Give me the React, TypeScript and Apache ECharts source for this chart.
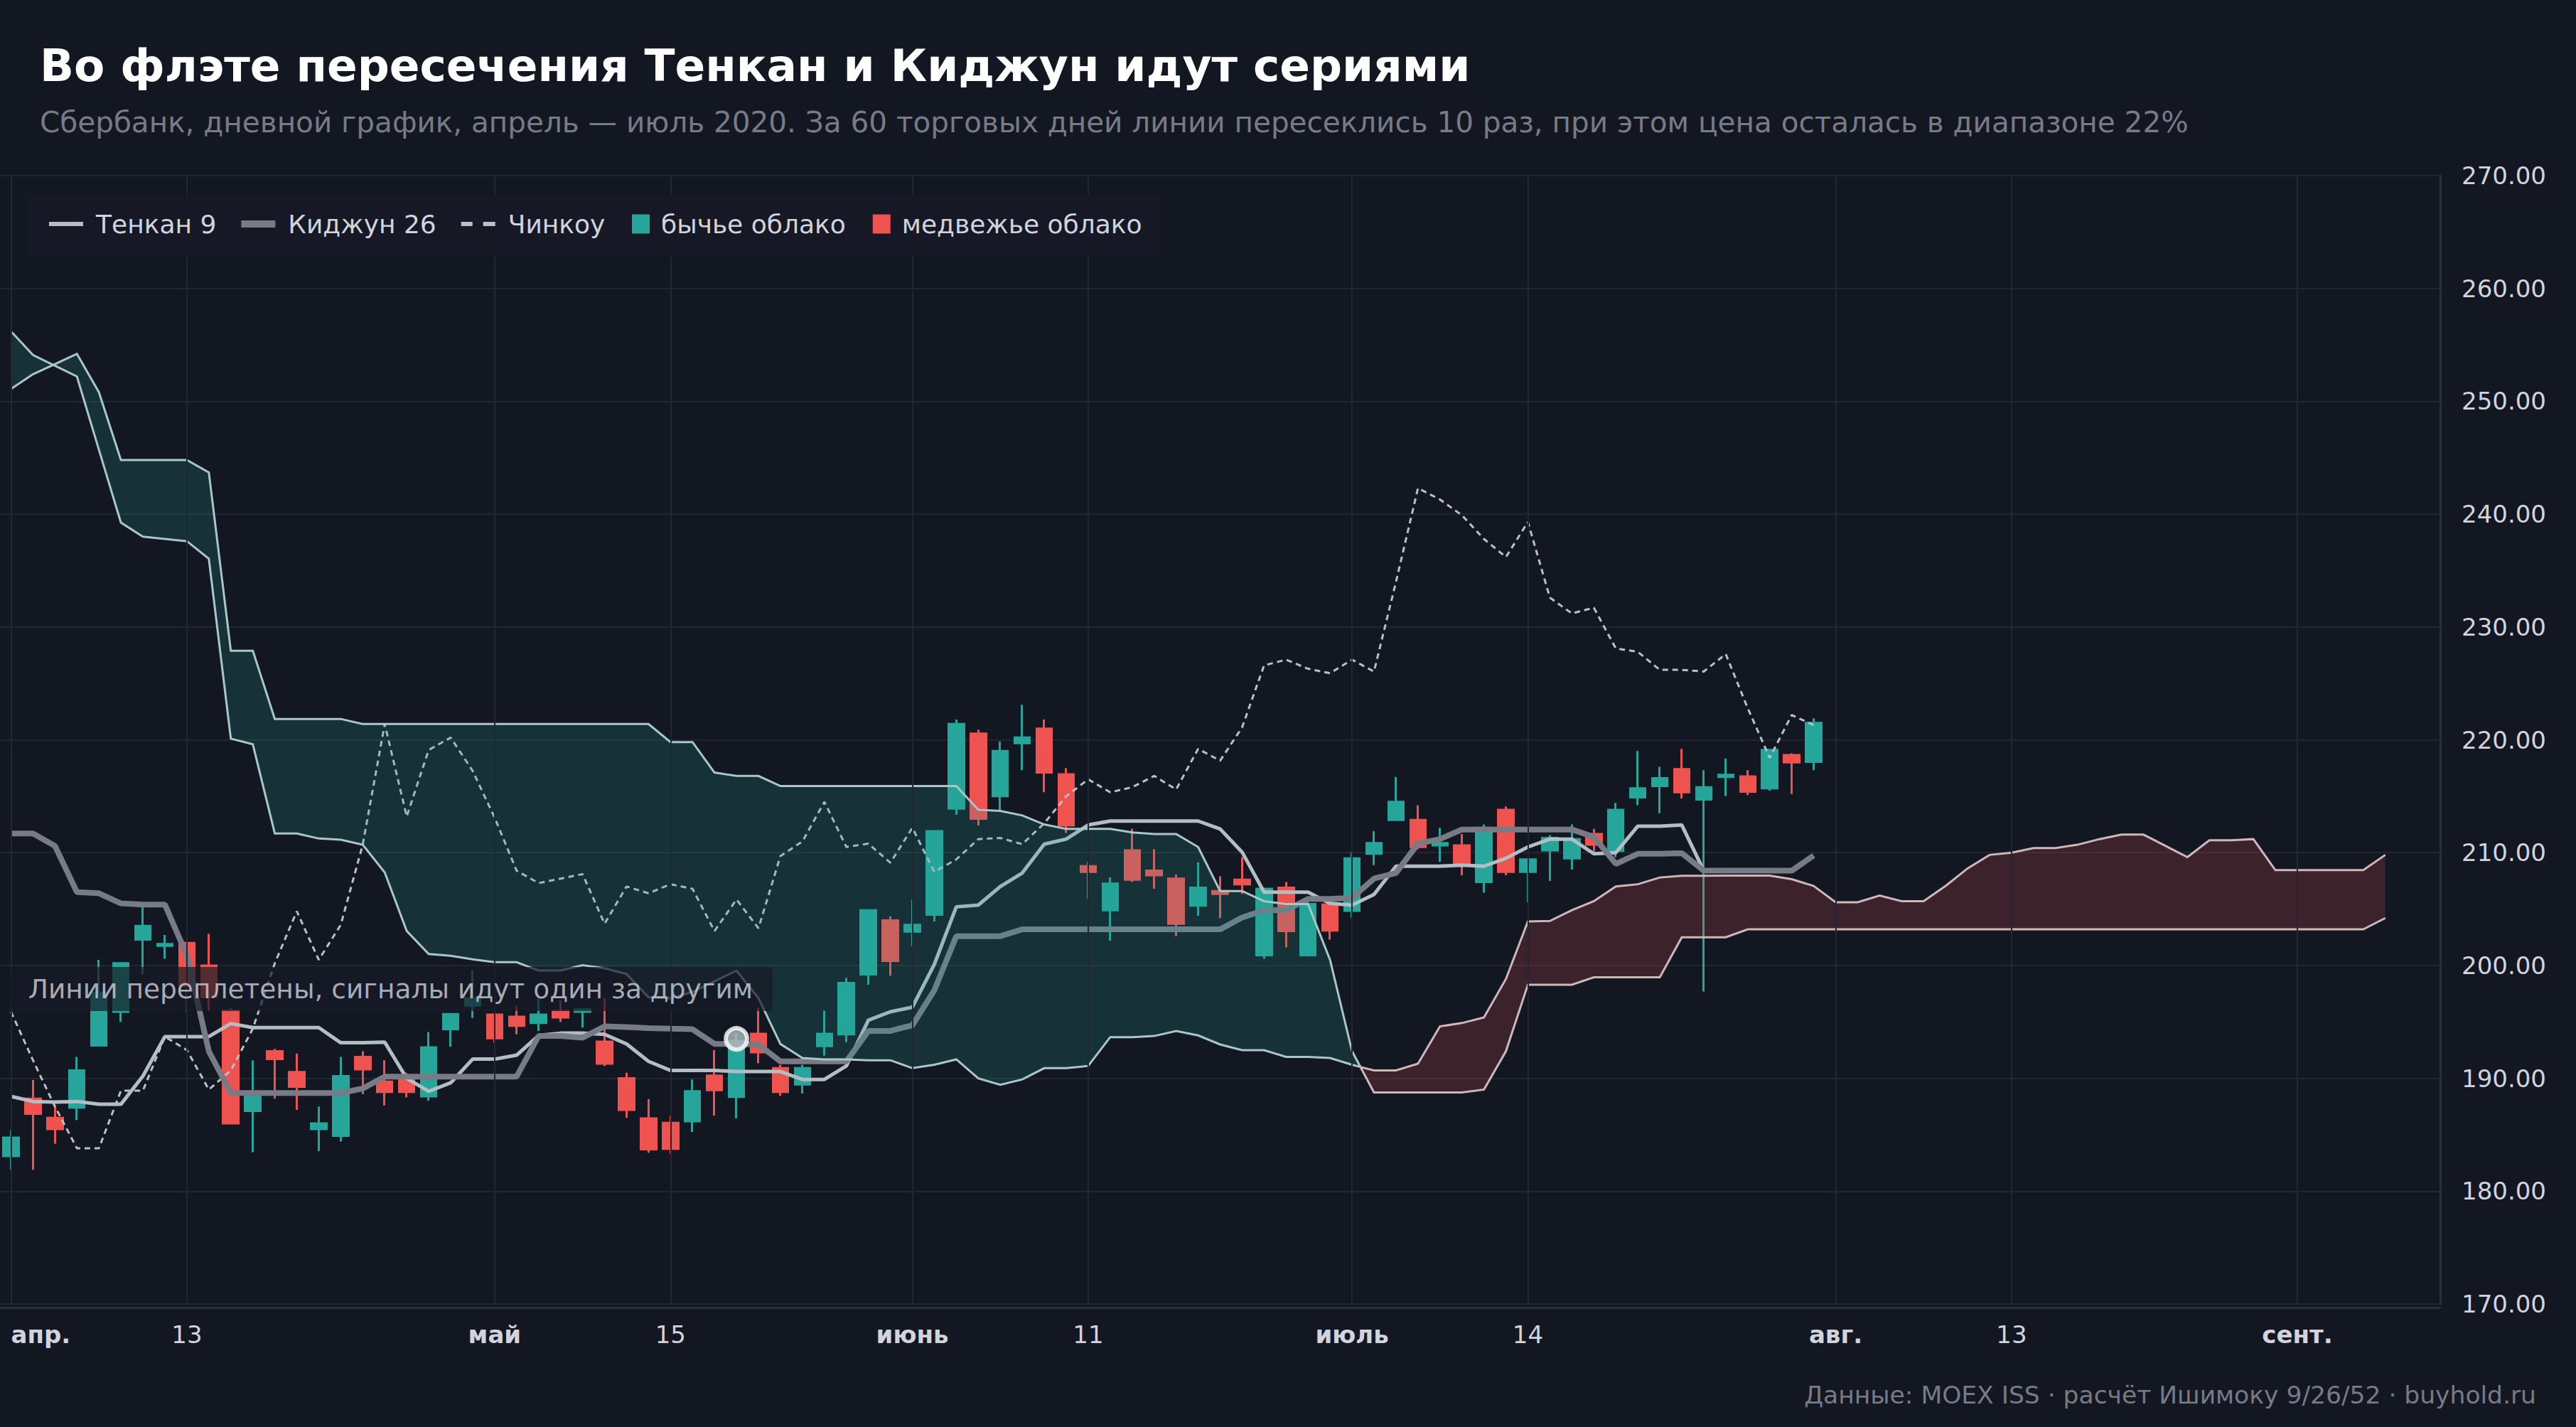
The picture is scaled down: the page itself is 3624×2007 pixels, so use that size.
import React, { useEffect, useRef } from 'react';
import * as echarts from 'echarts';

// ---------- calendar (MOEX trading days, Apr 2020 onward) ----------
const HOLIDAYS = ['2020-05-01', '2020-05-11', '2020-06-12', '2020-06-24', '2020-07-01'];
const DAY_COUNT = 111;
function tradingDays(): string[] {
  const out: string[] = [];
  const d = new Date(Date.UTC(2020, 3, 1));
  while (out.length < DAY_COUNT) {
    const wd = d.getUTCDay();
    const s = d.toISOString().slice(0, 10);
    if (wd !== 0 && wd !== 6 && HOLIDAYS.indexOf(s) < 0) out.push(s);
    d.setUTCDate(d.getUTCDate() + 1);
  }
  return out;
}
const dates = tradingDays();

// [date, label, isMonth]
const tickLabels: [string, string, boolean][] = [
  ['2020-04-01', 'апр.', true],
  ['2020-04-13', '13', false],
  ['2020-05-04', 'май', true],
  ['2020-05-15', '15', false],
  ['2020-06-01', 'июнь', true],
  ['2020-06-11', '11', false],
  ['2020-07-02', 'июль', true],
  ['2020-07-14', '14', false],
  ['2020-08-03', 'авг.', true],
  ['2020-08-13', '13', false],
  ['2020-09-01', 'сент.', true],
];

const yTicks = { min: 170, max: 270, step: 10 };

// ---------- price data: [open, close, low, high] ----------
const ohlc: number[][] = [
  [183.1, 184.75, 181.9, 185.4], [188.2, 186.85, 181.9, 189.85], [186.5, 185.5, 184.2, 187.5], [187.4, 190.7, 186.3, 191.9],
  [192.9, 197.6, 192.85, 200.5], [195.9, 200.2, 195.0, 200.3], [202.3, 203.5, 199.2, 205.3], [201.75, 201.9, 200.6, 202.7],
  [202.0, 198.2, 195.9, 202.1], [200.0, 197.2, 196.0, 202.8], [196.0, 186.0, 185.95, 196.2], [187.1, 188.5, 183.45, 191.6],
  [192.4, 191.7, 188.2, 192.6], [190.55, 189.25, 187.2, 192.2], [185.5, 186.0, 183.55, 187.5], [184.9, 190.2, 184.4, 191.9],
  [191.9, 190.8, 188.6, 192.4], [189.7, 188.8, 187.6, 191.6], [189.9, 188.8, 188.3, 190.5], [188.4, 192.75, 188.0, 194.1],
  [194.35, 195.7, 192.8, 195.75], [196.45, 197.1, 195.35, 199.6], [195.65, 193.55, 193.15, 195.7], [195.45, 194.65, 193.9, 196.4],
  [194.9, 195.65, 194.2, 197.1], [195.95, 195.4, 195.0, 196.9], [195.9, 196.1, 194.5, 196.2], [193.25, 191.3, 191.1, 197.1],
  [190.0, 187.2, 186.5, 190.5], [186.45, 183.7, 183.4, 188.15], [186.05, 183.75, 183.3, 186.7], [186.2, 188.85, 185.25, 189.9],
  [190.25, 188.95, 186.7, 192.5], [188.35, 193.3, 186.45, 194.0], [193.95, 192.3, 191.35, 196.25], [190.9, 188.8, 188.45, 191.2],
  [189.45, 190.9, 188.65, 191.2], [192.85, 193.95, 192.0, 196.0], [193.9, 198.45, 193.2, 198.9], [199.2, 204.9, 198.3, 204.95],
  [204.0, 200.4, 199.1, 204.35], [203.0, 203.6, 201.7, 205.85], [204.5, 211.9, 203.9, 211.95], [213.9, 221.4, 213.35, 221.8],
  [220.55, 213.0, 212.4, 220.9], [215.0, 219.0, 213.7, 219.85], [219.7, 220.2, 217.3, 223.1], [221.0, 217.1, 215.35, 221.8],
  [216.95, 212.4, 211.75, 217.5], [208.8, 208.3, 205.9, 209.2], [204.9, 207.25, 202.2, 207.8], [210.2, 207.6, 207.4, 212.1],
  [208.4, 208.0, 206.8, 210.3], [207.7, 203.7, 202.6, 208.05], [205.3, 206.9, 204.4, 209.15], [206.6, 206.35, 204.2, 207.9],
  [207.6, 207.2, 206.35, 209.6], [200.9, 206.8, 200.6, 206.85], [206.9, 203.05, 201.6, 207.4], [200.9, 205.45, 200.8, 205.8],
  [205.4, 203.1, 202.3, 205.9], [204.85, 209.5, 204.2, 210.05], [209.9, 210.85, 208.9, 211.9], [212.9, 214.5, 212.8, 216.7],
  [212.9, 210.5, 210.3, 214.2], [210.65, 210.85, 209.2, 212.2], [210.65, 209.0, 208.0, 211.65], [207.4, 212.2, 206.45, 212.5],
  [213.8, 208.3, 208.0, 214.1], [208.3, 209.4, 205.6, 209.5], [210.2, 211.3, 207.5, 211.55], [209.5, 211.2, 208.5, 212.5],
  [211.65, 210.7, 210.1, 212.1], [210.15, 213.8, 209.6, 214.4], [214.9, 215.7, 214.2, 219.0], [215.9, 216.6, 213.5, 217.6],
  [217.4, 215.35, 214.8, 219.2], [214.7, 215.8, 197.7, 217.3], [216.7, 216.9, 215.0, 218.35], [216.75, 215.4, 215.1, 217.3],
  [215.7, 219.1, 215.5, 219.15], [218.65, 218.0, 215.2, 218.8], [218.05, 221.5, 217.3, 221.9],
];

const tenkan: number[] = [
  188.4, 187.95, 187.9, 187.95, 187.7, 187.7, 190.2, 193.7, 193.7, 193.7,
  194.85, 194.5, 194.5, 194.5, 194.5, 193.15, 193.15, 193.2, 190.0, 188.85,
  189.6, 191.7, 191.7, 192.05, 193.8, 194.0, 194.0, 193.9, 193.05, 191.5,
  190.7, 190.7, 190.7, 190.6, 190.6, 190.6, 189.9, 189.9, 191.1, 195.15,
  195.9, 196.3, 200.1, 205.2, 205.35, 207.0, 208.2, 210.75, 211.2, 212.45,
  212.8, 212.8, 212.8, 212.8, 212.8, 212.1, 210.05, 206.5, 206.5, 206.5,
  205.5, 205.35, 206.3, 208.8, 208.8, 208.8, 208.9, 208.8, 209.5, 210.5,
  211.2, 211.2, 209.9, 210.0, 212.35, 212.35, 212.45, 208.4, 208.4, 208.4,
  208.4, 208.4, 209.7,
];

const kijun: number[] = [
  211.7, 211.7, 210.6, 206.5, 206.4, 205.5, 205.4, 205.4, 200.9, 192.4,
  188.7, 188.7, 188.7, 188.7, 188.7, 188.7, 189.1, 190.15, 190.15, 190.15,
  190.15, 190.15, 190.15, 190.15, 193.75, 193.75, 193.6, 194.6, 194.55, 194.45,
  194.4, 194.35, 193.05, 193.05, 193.0, 191.5, 191.5, 191.5, 191.5, 194.2,
  194.2, 194.7, 197.8, 202.6, 202.6, 202.6, 203.2, 203.2, 203.2, 203.2,
  203.2, 203.2, 203.2, 203.2, 203.2, 203.2, 204.25, 204.9, 204.9, 205.9,
  205.9, 206.0, 207.7, 208.2, 210.8, 211.2, 212.05, 212.05, 212.05, 212.05,
  212.05, 212.05, 211.4, 209.0, 209.9, 209.9, 209.95, 208.4, 208.4, 208.4,
  208.4, 208.4, 209.75,
];

const chinkou: number[] = [
  195.9, 191.6, 187.5, 183.8, 183.8, 188.9, 188.9, 193.7, 192.5, 189.0,
  190.7, 194.4, 200.2, 204.8, 200.5, 203.6, 210.7, 221.4, 213.2, 219.1,
  220.2, 217.25, 213.1, 208.4, 207.3, 207.7, 208.1, 203.7, 207.0, 206.4,
  207.2, 206.8, 203.05, 205.85, 203.3, 209.7, 211.0, 214.5, 210.5, 210.8,
  209.1, 212.2, 208.3, 209.4, 211.2, 211.3, 210.75, 212.6, 215.0, 216.5,
  215.35, 215.8, 216.8, 215.6, 219.2, 218.15, 221.1, 226.6, 227.1, 226.3,
  225.9, 227.1, 226.05, 234.0, 242.3, 241.3, 239.9, 237.8, 236.2, 239.3,
  232.6, 231.2, 231.7, 228.1, 227.8, 226.2, 226.2, 226.05, 227.6, 222.8,
  218.4, 222.2, 221.3,
];

// Senkou spans (already shifted 26 bars forward)
const spanA: number[] = [
  251.1, 252.4, 253.3, 254.2, 250.8, 244.8, 244.8, 244.8, 244.8, 243.7,
  227.9, 227.9, 221.85, 221.85, 221.85, 221.85, 221.4, 221.4, 221.4, 221.4,
  221.4, 221.4, 221.4, 221.4, 221.4, 221.4, 221.4, 221.4, 221.4, 221.4,
  219.8, 219.8, 217.1, 216.8, 216.8, 215.9, 215.9, 215.9, 215.9, 215.9,
  215.9, 215.9, 215.9, 215.9, 213.8, 213.7, 213.3, 212.5, 212.1, 212.1,
  212.1, 211.8, 211.65, 211.65, 210.5, 206.6, 206.6, 205.7, 205.45, 205.45,
  200.5, 192.4, 188.75, 188.75, 188.75, 188.75, 188.75, 189.0, 192.4, 198.3,
  198.3, 198.3, 198.95, 198.95, 198.95, 198.95, 202.5, 202.5, 202.5, 203.2,
  203.2, 203.2, 203.2, 203.2, 203.2, 203.2, 203.2, 203.2, 203.2, 203.2,
  203.2, 203.2, 203.2, 203.2, 203.2, 203.2, 203.2, 203.2, 203.2, 203.2,
  203.2, 203.2, 203.2, 203.2, 203.2, 203.2, 203.2, 203.2, 204.2,
];

const spanB: number[] = [
  256.2, 254.1, 253.15, 252.2, 245.7, 239.25, 238.0, 237.8, 237.6, 236.05,
  220.1, 219.6, 211.7, 211.7, 211.25, 211.15, 210.7, 208.25, 203.06, 201.02,
  200.86, 200.54, 200.29, 200.29, 199.55, 199.55, 200.02, 199.76, 199.24, 197.18,
  197.1, 197.66, 198.6, 199.55, 197.1, 193.04, 191.8, 191.68, 191.68, 191.6,
  191.6, 190.9, 191.2, 191.68, 190.0, 189.43, 189.9, 190.9, 190.9, 191.1,
  193.65, 193.65, 193.75, 194.2, 193.8, 193.0, 192.5, 192.5, 191.9, 191.9,
  191.8, 191.2, 190.7, 190.7, 191.3, 194.6, 194.9, 195.4, 198.8, 203.9,
  203.94, 204.9, 205.7, 207.0, 207.2, 207.8, 207.95, 207.95, 207.97, 207.97,
  207.97, 207.65, 207.05, 205.6, 205.6, 206.2, 205.7, 205.7, 207.05, 208.6,
  209.8, 210.0, 210.4, 210.4, 210.7, 211.2, 211.6, 211.6, 210.6, 209.6,
  211.1, 211.1, 211.2, 208.45, 208.45, 208.45, 208.45, 208.45, 209.8,
];

// cloud is bullish up to this bar, bearish after the next crossing
const cloudTurn = 61;

// highlighted crossing
const marker = { index: 33, price: 193.5, text: 'Линии переплетены, сигналы идут один за другим' };

const TITLE = 'Во флэте пересечения Тенкан и Киджун идут сериями';
const SUBTITLE =
  'Сбербанк, дневной график, апрель — июль 2020. За 60 торговых дней линии пересеклись 10 раз, при этом цена осталась в диапазоне 22%';
const FOOTER = 'Данные: MOEX ISS · расчёт Ишимоку 9/26/52 · buyhold.ru';

// ---------- styling ----------
const BG = '#131722';
const UP = '#26a69a';
const DOWN = '#ef5350';
const GRIDC = '#222631';
const LABEL = '#d1d4dc';
const MUTED = '#787b86';
const TENKAN_C = '#b2bec3';
const CHINKOU_C = '#b9c1c8';
const FONT = '"DejaVu Sans", sans-serif';

function cloudRenderer(bull: boolean) {
  return (_params: any, api: any) => {
    const i = cloudTurn;
    const pa = spanA.map((v, k) => api.coord([k, v]));
    const pb = spanB.map((v, k) => api.coord([k, v]));
    const d0 = spanA[i] - spanB[i];
    const d1 = spanA[i + 1] - spanB[i + 1];
    const t = d0 / (d0 - d1);
    const cross = [pa[i][0] + (pa[i + 1][0] - pa[i][0]) * t, pa[i][1] + (pa[i + 1][1] - pa[i][1]) * t];
    const aPts = bull ? [...pa.slice(0, i + 1), cross] : [cross, ...pa.slice(i + 1)];
    const bPts = bull ? [...pb.slice(0, i + 1), cross] : [cross, ...pb.slice(i + 1)];
    const poly = [...aPts, ...bPts.slice().reverse()];
    const fill = bull ? 'rgba(38,166,154,0.19)' : 'rgba(239,83,80,0.19)';
    const stroke = bull ? '#a9c6c9' : '#cdb7bb';
    return {
      type: 'group',
      children: [
        { type: 'polygon', shape: { points: poly }, style: { fill, stroke: null }, silent: true },
        { type: 'polyline', shape: { points: aPts }, style: { stroke, lineWidth: 3, fill: null }, silent: true },
        { type: 'polyline', shape: { points: bPts }, style: { stroke, lineWidth: 3, fill: null }, silent: true },
      ],
    };
  };
}

const tickMap = new Map(tickLabels.map((t) => [t[0], t]));

function buildOption(): any {
  return {
    backgroundColor: BG,
    animation: false,
    textStyle: { fontFamily: FONT },
    grid: { left: 0, right: 191, top: 247, bottom: 173, containLabel: false },
    xAxis: {
      type: 'category',
      data: dates,
      boundaryGap: true,
      offset: 5,
      axisLine: { show: true, onZero: false, lineStyle: { color: '#2a2e39', width: 3 } },
      axisTick: { show: false },
      splitLine: { show: false },
      axisLabel: {
        interval: (_i: number, v: string) => tickMap.has(v),
        formatter: (v: string) => {
          const t = tickMap.get(v);
          if (!t) return '';
          return t[2] ? `{m|${t[1]}}` : `{d|${t[1]}}`;
        },
        margin: 21,
        alignMinLabel: 'left',
        rich: {
          m: { fontWeight: 'bold', fontSize: 34, color: LABEL, fontFamily: FONT },
          d: { fontSize: 34, color: LABEL, fontFamily: FONT },
        },
      },
    },
    yAxis: {
      type: 'value',
      position: 'right',
      min: yTicks.min,
      max: yTicks.max,
      interval: yTicks.step,
      axisLine: { show: true, lineStyle: { color: '#2a2e39', width: 3 } },
      axisTick: { show: false },
      axisLabel: { formatter: (v: number) => v.toFixed(2), color: LABEL, fontSize: 34, margin: 30 },
      splitLine: { show: true, lineStyle: { color: GRIDC, width: 2 } },
    },
    legend: [
      {
        left: 69,
        top: 295,
        padding: 0,
        itemWidth: 48,
        itemHeight: 14,
        itemGap: 35,
        selectedMode: false,
        z: 10,
        textStyle: { color: LABEL, fontSize: 36, lineHeight: 40, padding: [0, 0, 0, 13] },
        data: [
          { name: 'Тенкан 9', icon: 'path://M0,0H48V6H0Z', itemStyle: { color: TENKAN_C } },
          { name: 'Киджун 26', icon: 'path://M0,0H48V10H0Z', itemStyle: { color: MUTED } },
          { name: 'Чинкоу', icon: 'path://M0,0H16V6H0Z M31,0H48V6H31Z', itemStyle: { color: CHINKOU_C } },
        ],
      },
      {
        left: 889,
        top: 295,
        padding: 0,
        itemWidth: 25,
        itemHeight: 27,
        itemGap: 38,
        selectedMode: false,
        z: 10,
        textStyle: { color: LABEL, fontSize: 36, lineHeight: 40, padding: [0, 0, 0, 11] },
        data: [
          { name: 'бычье облако', icon: 'rect', itemStyle: { color: UP } },
          { name: 'медвежье облако', icon: 'rect', itemStyle: { color: DOWN } },
        ],
      },
    ],
    graphic: [
      {
        type: 'rect',
        z: 9,
        silent: true,
        shape: { x: 36, y: 273, width: 1596, height: 88, r: 6 },
        style: { fill: 'rgba(22,26,37,0.94)' },
      },
      {
        type: 'text',
        z: 20,
        x: 56,
        y: 92,
        style: { text: TITLE, fill: '#ffffff', font: `bold 63px ${FONT}`, align: 'left', verticalAlign: 'middle' },
      },
      {
        type: 'text',
        z: 20,
        x: 56,
        y: 172,
        style: { text: SUBTITLE, fill: MUTED, font: `40.5px ${FONT}`, align: 'left', verticalAlign: 'middle' },
      },
      {
        type: 'text',
        z: 20,
        x: 3568,
        y: 1962,
        style: { text: FOOTER, fill: MUTED, font: `34.5px ${FONT}`, align: 'right', verticalAlign: 'middle' },
      },
    ],
    series: [
      {
        name: 'grid-x',
        type: 'line',
        data: [],
        z: 1,
        silent: true,
        markLine: {
          silent: true,
          symbol: ['none', 'none'],
          label: { show: false },
          lineStyle: { color: GRIDC, width: 2, type: 'solid' },
          data: tickLabels.map((t) => ({ xAxis: t[0] })),
        },
      },
      {
        name: 'Сбербанк',
        type: 'candlestick',
        data: ohlc,
        barWidth: 22,
        z: 2,
        itemStyle: { color: UP, color0: DOWN, borderColor: UP, borderColor0: DOWN, borderWidth: 3 },
      },
      {
        name: 'Чинкоу',
        type: 'line',
        data: chinkou,
        z: 3,
        symbol: 'none',
        color: CHINKOU_C,
        lineStyle: { color: CHINKOU_C, width: 3, type: [8, 6] },
      },
      {
        name: 'Тенкан 9',
        type: 'line',
        data: tenkan,
        z: 3,
        symbol: 'none',
        color: TENKAN_C,
        lineStyle: { color: TENKAN_C, width: 5 },
      },
      {
        name: 'Киджун 26',
        type: 'line',
        data: kijun,
        z: 3,
        symbol: 'none',
        color: MUTED,
        lineStyle: { color: MUTED, width: 8 },
      },
      {
        name: 'бычье облако',
        type: 'custom',
        z: 4,
        silent: true,
        clip: true,
        itemStyle: { color: UP },
        data: [[0, 200]],
        encode: { x: 0, y: 1 },
        renderItem: cloudRenderer(true),
      },
      {
        name: 'медвежье облако',
        type: 'custom',
        z: 4,
        silent: true,
        clip: true,
        itemStyle: { color: DOWN },
        data: [[0, 200]],
        encode: { x: 0, y: 1 },
        renderItem: cloudRenderer(false),
      },
      {
        name: 'marker',
        type: 'scatter',
        z: 6,
        silent: true,
        symbol: 'circle',
        symbolSize: 30,
        data: [[marker.index, marker.price]],
        itemStyle: { color: TENKAN_C, borderColor: '#ffffff', borderWidth: 6 },
        label: {
          show: true,
          formatter: marker.text,
          position: [69, -21],
          align: 'right',
          verticalAlign: 'bottom',
          color: LABEL,
          fontSize: 37.5,
          lineHeight: 38,
          backgroundColor: 'rgba(23,27,38,0.88)',
          padding: [12, 28, 12, 25],
          borderRadius: 8,
        },
      },
    ],
  };
}

export default function App() {
  const ref = useRef<HTMLDivElement>(null);
  useEffect(() => {
    if (!ref.current) return;
    const chart = echarts.init(ref.current, null, { renderer: 'svg' });
    chart.setOption(buildOption());
    return () => chart.dispose();
  }, []);
  return (
    <div
      ref={ref}
      style={{ position: 'fixed', left: 0, top: 0, width: 3624, height: 2007, background: BG }}
    />
  );
}
